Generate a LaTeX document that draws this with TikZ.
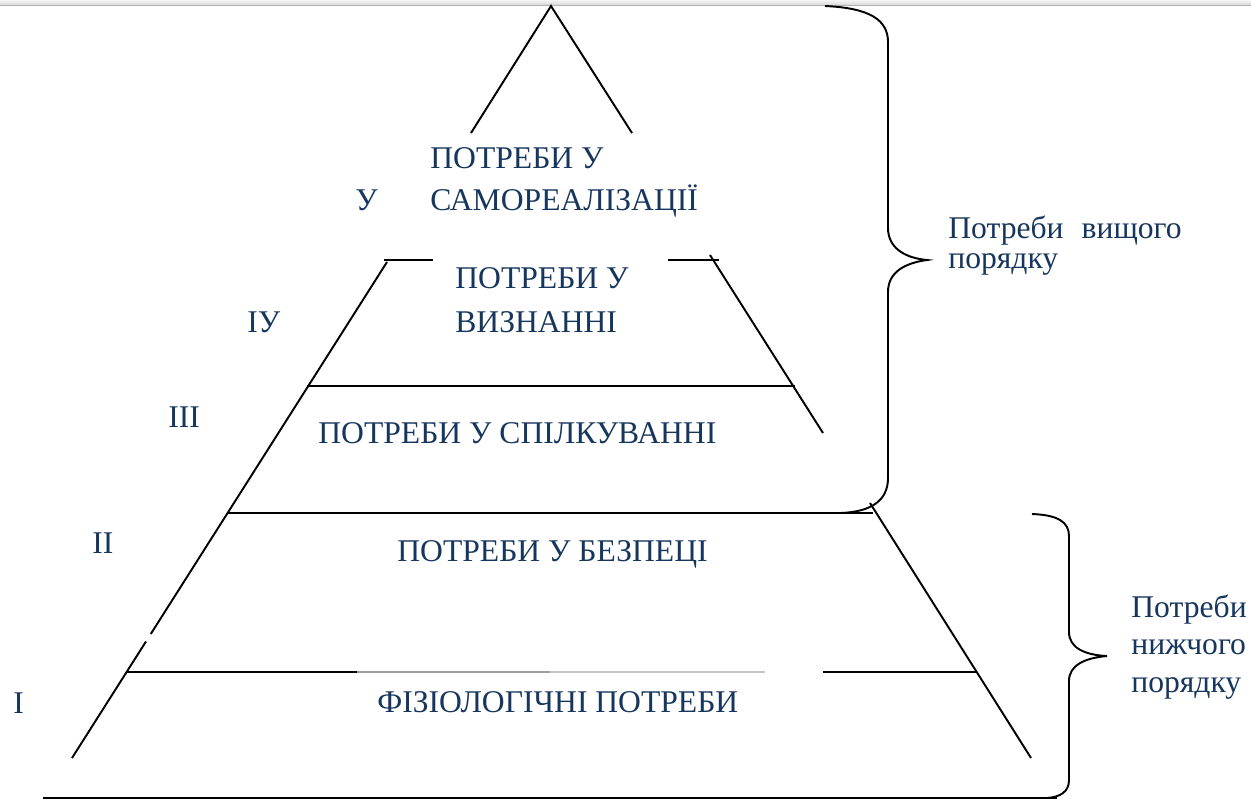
\documentclass[tikz,border=0pt]{standalone}
\usepackage{fontspec}
\setmainfont{Liberation Serif}
\newfontfamily\pyrfont{Liberation Serif}
\usepackage{tikz}
\usetikzlibrary{calc}
\definecolor{txtblue}{RGB}{23,54,93}
\tikzset{
  lbl/.style={anchor=base west, inner sep=0pt, text=txtblue, align=left, font=\pyrfont\fontsize{18}{22}\selectfont},
  edge/.style={line width=1.1pt, color=black}
}
\begin{document}
\begin{tikzpicture}[x=0.02cm,y=-0.02cm]
\useasboundingbox (0,0) rectangle (1251,799);
\coordinate (apex) at (551,6);
\coordinate (al) at (471,133);
\coordinate (ar) at (632,133);
\coordinate (lt) at (387,262);
\coordinate (lb) at (72,758);
\coordinate (rt) at (710,255);
\coordinate (rb) at (823,433);
\coordinate (rt2) at (870,503);
\coordinate (rb2) at (1031,758);
 \shade[top color=gray!8, bottom color=gray!30] (0,0) rectangle (1251,5);
 \draw[gray!60, line width=0.5pt] (0,5.5) -- (1251,5.5);
 \draw[edge] (al) -- (apex) -- (ar);
 \draw[edge] (384,260) -- (433,260);
 \draw[edge] (668,260) -- (719,260);
 \draw[edge] (lt) -- ($(lt)!0.75!(lb)$);
 \draw[edge] ($(lt)!0.765!(lb)$) -- (lb);
 \draw[edge] (rt) -- (rb);
 \draw[edge] (rt2) -- (rb2);
 \draw[edge] (307,386) -- (795,386);
 \draw[edge] (228,513) -- (873,513);
 \draw[edge] (126,672) -- (357,672);
 \draw[line width=0.9pt, color=gray!75] (357,672) -- (550,672);
 \draw[line width=0.7pt, color=gray!45] (550,672) -- (765,672);
 \draw[edge] (823,672) -- (977,672);
 \draw[line width=1.6pt] (43,798) -- (1057,798);
 \draw[edge] (825,6) .. controls (870,8) and (888,20) .. (888,42) -- (888,228) .. controls (888,248) and (905,258) .. (927,260) .. controls (905,263) and (888,272) .. (888,292) -- (888,478) .. controls (888,500) and (872,512) .. (840,513);
 \draw[edge] (1032,514) .. controls (1058,515) and (1069,522) .. (1069,536) -- (1069,632) .. controls (1069,648) and (1085,655) .. (1107,656) .. controls (1085,658) and (1069,665) .. (1069,681) -- (1069,780) .. controls (1069,792) and (1060,797) .. (1047,798);
 \node[lbl, font=\pyrfont\fontsize{18}{23.8}\selectfont] (self) at (430,210) {ПОТРЕБИ У\\САМОРЕАЛІЗАЦІЇ};
 \node[lbl, font=\pyrfont\fontsize{18}{24.9}\selectfont] (esteem) at (455,332) {ПОТРЕБИ У\\ВИЗНАННІ};
 \node[lbl] (social) at (318,443) {ПОТРЕБИ У СПІЛКУВАННІ};
 \node[lbl] (safety) at (397,561) {ПОТРЕБИ У БЕЗПЕЦІ};
 \node[lbl] (physio) at (377,712) {ФІЗІОЛОГІЧНІ ПОТРЕБИ};
 \node[lbl] (n5) at (355,210) {У};
 \node[lbl] (n4) at (247,332) {ІУ};
 \node[lbl] (n3) at (168,427) {ІІІ};
 \node[lbl] (n2) at (92,553) {ІІ};
 \node[lbl] (n1) at (13,713) {І};
 \node[lbl, font=\pyrfont\fontsize{18}{17}\selectfont] (higher) at (948,268) {Потреби\hspace{0.32em} вищого\\порядку};
 \node[lbl, font=\pyrfont\fontsize{18}{21.3}\selectfont] (lower) at (1131,692) {Потреби\\нижчого\\порядку};
\end{tikzpicture}
\end{document}
